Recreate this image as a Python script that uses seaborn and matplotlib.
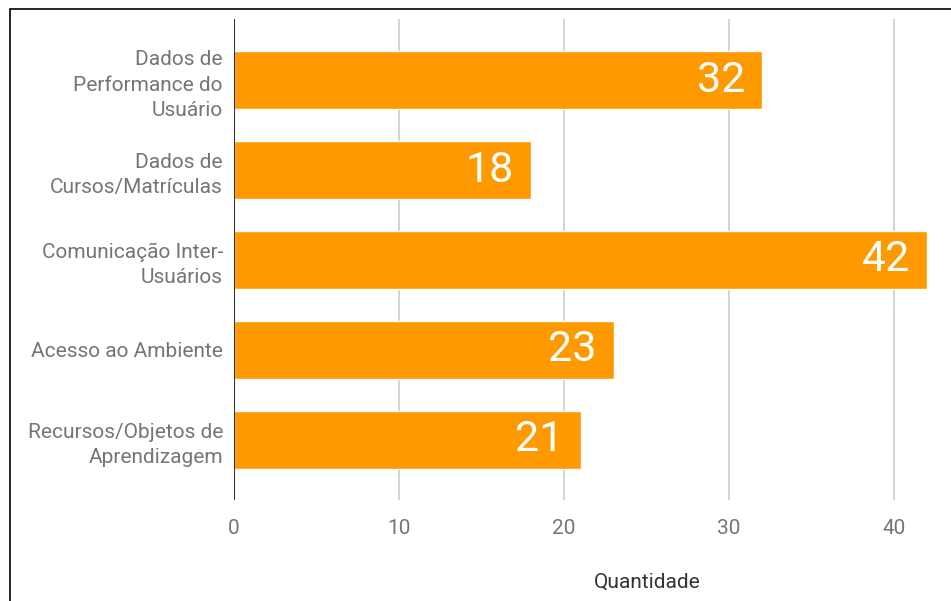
import matplotlib
matplotlib.use("Agg")
import matplotlib.pyplot as plt
import seaborn as sns
import pandas as pd
from matplotlib.patches import Rectangle

categories = ["Dados de\nPerformance do\nUsuário", "Dados de\nCursos/Matrículas",
              "Comunicação Inter-\nUsuários", "Acesso ao Ambiente",
              "Recursos/Objetos de\nAprendizagem"]
values = [32, 18, 42, 23, 21]
xticks = [0, 10, 20, 30, 40]
xlabel = "Quantidade"

sns.set_theme(style="white")
plt.rcParams['font.family'] = ['Roboto', 'DejaVu Sans']

W, H = 951, 601
fig = plt.figure(figsize=(W / 100, H / 100), dpi=100)
ax = fig.add_axes([234 / W, 1 - 500 / H, (927 - 234) / W, (500 - 19) / H])

df = pd.DataFrame({"cat": categories, "val": values})
sns.barplot(data=df, y="cat", x="val", orient="h", color="#FF9900",
            saturation=1, width=0.645, ax=ax, zorder=3)

ax.set_xlim(0, 42)
ax.set_ylim(4.67, -0.68)
ax.set_xticks(xticks)
ax.set_xticklabels([str(t) for t in xticks])
for t in xticks[1:]:
    ax.axvline(t, color="#cccccc", lw=1.2, zorder=1)
ax.axvline(0, color="#333333", lw=1.5, zorder=4)

for s in ax.spines.values():
    s.set_visible(False)
ax.tick_params(axis="x", length=0, colors="#757575", labelsize=15, pad=14)
ax.tick_params(axis="y", length=0, colors="#757575", labelsize=15, pad=8)
for lbl in ax.get_yticklabels():
    lbl.set_horizontalalignment("right")
    lbl.set_multialignment("right")
    lbl.set_linespacing(1.42)
ax.set_xlabel("")
ax.set_ylabel("")

for i, v in enumerate(values):
    ax.annotate(str(v), xy=(v, i), xytext=(-17, 0), textcoords="offset pixels",
                ha="right", va="center", color="white", fontsize=31, zorder=5)

fig.text(647 / W, 1 - 582 / H, xlabel, ha="center", va="center",
         color="#333333", fontsize=15)

fig.patches.append(Rectangle((10 / W, -0.1), 1.2, 1 - 9 / H + 0.1,
                             transform=fig.transFigure, fill=False,
                             edgecolor="black", lw=1.2, zorder=10))

fig.savefig("out.png", dpi=100, facecolor="white")
